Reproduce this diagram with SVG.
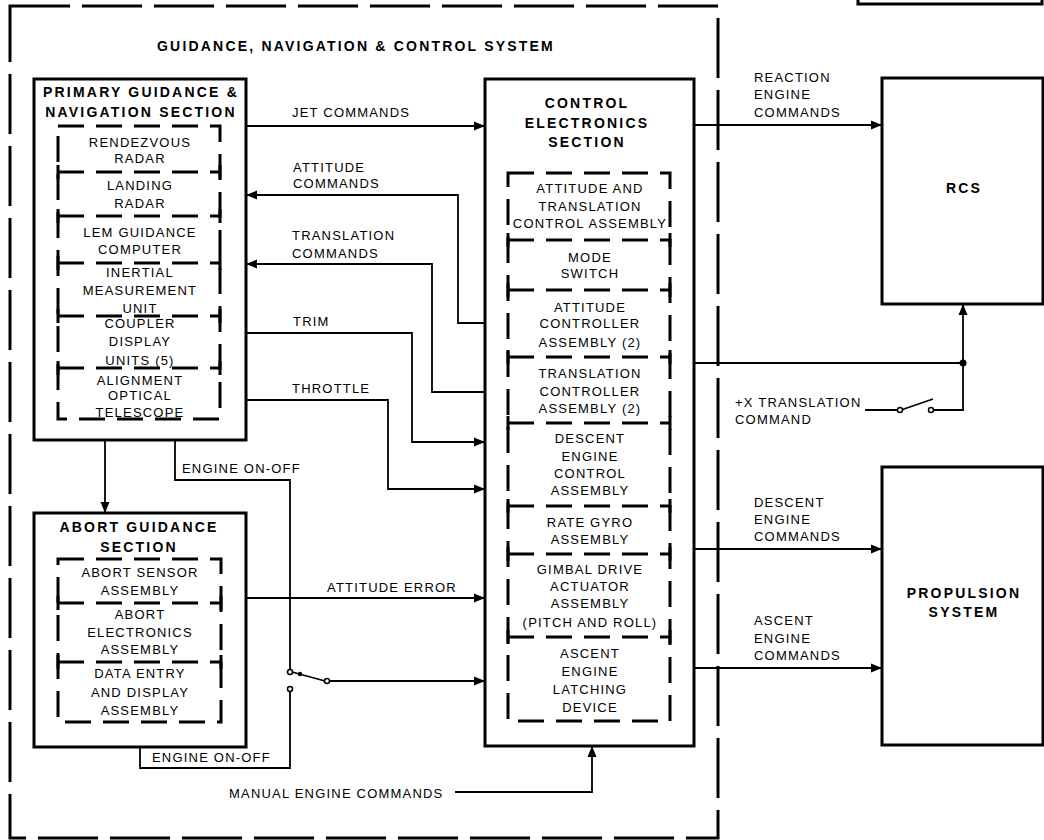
<svg xmlns="http://www.w3.org/2000/svg" width="1044" height="840" viewBox="0 0 1044 840">
<defs>
<style>
.box{fill:none;stroke:#000;stroke-width:3}
.inner{fill:none;stroke:#000;stroke-width:3;stroke-dasharray:26 12}
.tick{stroke:#000;stroke-width:3}
.outer{fill:none;stroke:#000;stroke-width:3;stroke-dasharray:60 12}
.ln{fill:none;stroke:#000;stroke-width:1.8}
.arr{marker-end:url(#ah)}
text{font-family:"Liberation Sans",Arial,sans-serif;fill:#000}
.t{font-size:13px;letter-spacing:1.2px}
.c{text-anchor:middle}
.b{font-size:14px;font-weight:bold;letter-spacing:2.2px}
.sw{fill:#fff;stroke:#000;stroke-width:1.5}
</style>
<marker id="ah" markerUnits="userSpaceOnUse" markerWidth="12" markerHeight="10" refX="11" refY="5" orient="auto">
<path d="M0,0.5 L11,5 L0,9.5 z" fill="#000"/>
</marker>
</defs>
<rect width="1044" height="840" fill="#fff"/>

<g id="system-border">
<rect class="outer" x="10" y="6" width="708" height="832"/>
<path class="box" d="M858,0 V4 H1042 V0"/>
<text class="b" x="157" y="51">GUIDANCE, NAVIGATION &amp; CONTROL SYSTEM</text>
</g>

<g id="primary">
<rect class="box" x="34" y="79" width="212" height="361"/>
<text class="b c" x="141" y="97">PRIMARY GUIDANCE &amp;</text>
<text class="b c" x="141" y="117">NAVIGATION SECTION</text>
<rect class="inner" x="58" y="126" width="162" height="293"/>
<g class="inner"><path d="M58,172 H220 M58,216 H220 M58,263 H220 M58,316 H220 M58,368 H220"/></g>
<path class="tick" d="M58,165 V179 M220,165 V179 M58,209 V223 M220,209 V223 M58,256 V270 M220,256 V270 M58,309 V323 M220,309 V323 M58,361 V375 M220,361 V375"/>
<g class="t c">
<text x="140" y="147">RENDEZVOUS</text><text x="140" y="163">RADAR</text>
<text x="140" y="190">LANDING</text><text x="140" y="208">RADAR</text>
<text x="140" y="237">LEM GUIDANCE</text><text x="140" y="254">COMPUTER</text>
<text x="140" y="277">INERTIAL</text><text x="140" y="295">MEASUREMENT</text><text x="140" y="313">UNIT</text>
<text x="140" y="328">COUPLER</text><text x="140" y="346">DISPLAY</text><text x="140" y="365">UNITS (5)</text>
<text x="140" y="385">ALIGNMENT</text><text x="140" y="400">OPTICAL</text><text x="140" y="417">TELESCOPE</text>
</g>
</g>

<g id="abort">
<rect class="box" x="34" y="513" width="212" height="234"/>
<text class="b c" x="139" y="532">ABORT GUIDANCE</text>
<text class="b c" x="139" y="552">SECTION</text>
<rect class="inner" x="58" y="559" width="163" height="163"/>
<g class="inner"><path d="M58,603 H221 M58,662 H221"/></g>
<path class="tick" d="M58,596 V610 M221,596 V610 M58,655 V669 M221,655 V669"/>
<g class="t c">
<text x="140" y="577">ABORT SENSOR</text><text x="140" y="595">ASSEMBLY</text>
<text x="140" y="619">ABORT</text><text x="140" y="637">ELECTRONICS</text><text x="140" y="654">ASSEMBLY</text>
<text x="140" y="678">DATA ENTRY</text><text x="140" y="697">AND DISPLAY</text><text x="140" y="715">ASSEMBLY</text>
</g>
</g>

<g id="ces">
<rect class="box" x="485" y="79" width="209" height="667"/>
<text class="b c" x="587" y="108">CONTROL</text>
<text class="b c" x="587" y="128">ELECTRONICS</text>
<text class="b c" x="587" y="147">SECTION</text>
<rect class="inner" x="508" y="173" width="162" height="548"/>
<g class="inner"><path d="M508,240 H670 M508,290 H670 M508,357 H670 M508,423 H670 M508,506 H670 M508,554 H670 M508,637 H670"/></g>
<path class="tick" d="M508,233 V247 M670,233 V247 M508,283 V297 M670,283 V297 M508,350 V364 M670,350 V364 M508,416 V430 M670,416 V430 M508,499 V513 M670,499 V513 M508,547 V561 M670,547 V561 M508,630 V644 M670,630 V644"/>
<g class="t c">
<text x="590" y="193">ATTITUDE AND</text><text x="590" y="211">TRANSLATION</text><text x="590" y="228">CONTROL ASSEMBLY</text>
<text x="590" y="262">MODE</text><text x="590" y="278">SWITCH</text>
<text x="590" y="312">ATTITUDE</text><text x="590" y="328">CONTROLLER</text><text x="590" y="347">ASSEMBLY (2)</text>
<text x="590" y="378">TRANSLATION</text><text x="590" y="396">CONTROLLER</text><text x="590" y="413">ASSEMBLY (2)</text>
<text x="590" y="443">DESCENT</text><text x="590" y="461">ENGINE</text><text x="590" y="478">CONTROL</text><text x="590" y="495">ASSEMBLY</text>
<text x="590" y="527">RATE GYRO</text><text x="590" y="544">ASSEMBLY</text>
<text x="590" y="574">GIMBAL DRIVE</text><text x="590" y="591">ACTUATOR</text><text x="590" y="608">ASSEMBLY</text><text x="590" y="627">(PITCH AND ROLL)</text>
<text x="590" y="658">ASCENT</text><text x="590" y="676">ENGINE</text><text x="590" y="694">LATCHING</text><text x="590" y="712">DEVICE</text>
</g>
</g>

<g id="rcs">
<rect class="box" x="882" y="78" width="161" height="226"/>
<text class="b c" x="964" y="193">RCS</text>
</g>

<g id="propulsion">
<rect class="box" x="882" y="467" width="161" height="278"/>
<text class="b c" x="964" y="598">PROPULSION</text>
<text class="b c" x="964" y="617">SYSTEM</text>
</g>

<g id="connectors">
<path class="ln arr" d="M246,126 H485"/>
<path class="ln arr" d="M485,323 H458 V195 H246"/>
<path class="ln arr" d="M485,392 H432 V264 H246"/>
<path class="ln arr" d="M246,333 H412 V442 H485"/>
<path class="ln arr" d="M246,400 H388 V489 H485"/>
<path class="ln arr" d="M694,125 H882"/>
<path class="ln arr" d="M694,363 H963 V304"/>
<circle cx="963" cy="363" r="3.5" fill="#000"/>
<path class="ln" d="M865,410 H898"/>
<path class="ln" d="M901,410 L933,399"/>
<path class="ln" d="M933,410 H963 V363"/>
<circle class="sw" cx="900" cy="410" r="2.5"/>
<circle class="sw" cx="931" cy="410" r="2.5"/>
<path class="ln arr" d="M694,549 H882"/>
<path class="ln arr" d="M694,668 H882"/>
<path class="ln arr" d="M105,440 V513"/>
<path class="ln" d="M175,440 V480 H290 V670"/>
<path class="ln arr" d="M246,598 H485"/>
<path class="ln" d="M292,672 L325,681"/>
<circle cx="300" cy="674" r="2.2" fill="#000"/>
<circle class="sw" cx="290" cy="672" r="2.5"/>
<circle class="sw" cx="327" cy="681" r="2.5"/>
<path class="ln arr" d="M330,681 H485"/>
<circle class="sw" cx="290" cy="689" r="2.5"/>
<path class="ln" d="M290,691.5 V768 H140 V747"/>
<path class="ln arr" d="M455,792 H592 V746"/>
</g>

<g id="labels" class="t">
<text x="292" y="117">JET COMMANDS</text>
<text x="293" y="172">ATTITUDE</text><text x="293" y="188">COMMANDS</text>
<text x="292" y="240">TRANSLATION</text><text x="292" y="258">COMMANDS</text>
<text x="293" y="326">TRIM</text>
<text x="292" y="393">THROTTLE</text>
<text x="182" y="473">ENGINE ON-OFF</text>
<text x="327" y="592">ATTITUDE ERROR</text>
<text x="152" y="762">ENGINE ON-OFF</text>
<text x="229" y="798">MANUAL ENGINE COMMANDS</text>
<text x="754" y="82">REACTION</text><text x="754" y="99">ENGINE</text><text x="754" y="117">COMMANDS</text>
<text x="735" y="407">+X TRANSLATION</text><text x="735" y="424">COMMAND</text>
<text x="754" y="507">DESCENT</text><text x="754" y="524">ENGINE</text><text x="754" y="541">COMMANDS</text>
<text x="754" y="625">ASCENT</text><text x="754" y="643">ENGINE</text><text x="754" y="660">COMMANDS</text>
</g>
</svg>
